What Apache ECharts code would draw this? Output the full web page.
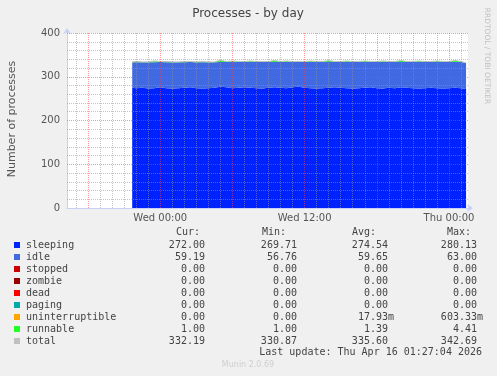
<!DOCTYPE html>
<html><head><meta charset="utf-8">
<script src="https://cdn.jsdelivr.net/npm/echarts@6/dist/echarts.min.js"></script>
<style>html,body{margin:0;padding:0;background:#f0f0f0}#c{width:497px;height:376px}</style>
</head><body><div id="c"></div><script>
// ---- data (hours relative to Wed 15 Apr 2026 00:00) ----
var startHour = -2.33, endHour = 25.42, stepHour = 0.5;
var xMin = -7.75, xMax = 25.58;
var tickHours = [0, 12, 24];
var tickLabels = ['Wed 00:00', 'Wed 12:00', 'Thu 00:00'];
var yTicks = [0, 100, 200, 300, 400];

var sleeping = [275,274,275,273,274,276,274,273,274,275,
                276,274,273,274,275,277,276,274,275,276,
                275,274,273,275,276,275,274,276,277,275,
                274,273,274,275,276,275,274,273,274,275,
                276,274,273,275,274,276,275,274,273,274,
                275,274,273,274,275,274,272];
var idle = [58,59,58,60,59,58,59,60,59,58,
            58,59,60,59,58,57,58,60,59,58,
            59,60,61,59,58,59,60,58,57,59,
            60,61,60,59,58,59,60,61,60,59,
            58,60,61,59,60,58,59,60,61,60,
            59,60,61,60,59,60,59];
var runnable = [1,2,1,1,3,1,2,1,1,2,
                1,1,2,1,1,4,1,2,1,1,
                2,1,1,1,3,1,2,1,1,1,
                2,1,1,3,1,1,2,1,1,2,
                1,1,2,1,1,3,1,1,2,1,
                1,2,1,1,3,1,1];
var total = [334,335,334,334,336,335,335,334,334,335,
             335,334,335,334,334,338,335,336,335,335,
             336,335,335,335,337,335,336,335,335,335,
             336,335,335,337,335,335,336,335,335,336,
             335,335,336,335,335,337,335,335,336,335,
             335,336,335,335,337,335,332];
var zeros = [0,0,0,0,0,0,0,0,0,0, 0,0,0,0,0,0,0,0,0,0, 0,0,0,0,0,0,0,0,0,0,
             0,0,0,0,0,0,0,0,0,0, 0,0,0,0,0,0,0,0,0,0, 0,0,0,0,0,0,0];

var names  = ['sleeping','idle','stopped','zombie','dead','paging','uninterruptible','runnable','total'];
var colors = ['#0022ff','#4169e1','#cc0000','#990000','#ff0000','#00aaaa','#ffa500','#22ff22','#c0c0c0'];
var curVals = ['272.00','59.19','0.00','0.00','0.00','0.00','0.00','1.00','332.19'];
var minVals = ['269.71','56.76','0.00','0.00','0.00','0.00','0.00','1.00','330.87'];
var avgVals = ['274.54','59.65','0.00','0.00','0.00','0.00','17.93m','1.39','335.60'];
var maxVals = ['280.13','63.00','0.00','0.00','0.00','0.00','603.33m','4.41','342.69'];
var lastUpdate = 'Last update: Thu Apr 16 01:27:04 2026';

// ---- build ----
var T0 = Date.UTC(2026, 3, 15, 0, 0, 0);
var HOUR = 3600000;
function ms(h){ return T0 + h * HOUR; }
var times = [startHour];
for (var k = 0; k < sleeping.length - 2; k++) times.push(-2.0 + k * stepHour);
times.push(endHour);
function pts(arr){ return arr.map(function(v,i){ return [ms(times[i]), v]; }); }

var stackData = [sleeping, idle, zeros, zeros, zeros, zeros, zeros, runnable];
var series = stackData.map(function(arr, i){
  return {
    name: names[i], type: 'line', stack: 'p', symbol: 'none',
    data: pts(arr), lineStyle: {width: 0}, itemStyle: {color: colors[i]},
    areaStyle: {color: colors[i], opacity: 1}, z: 2
  };
});
series.push({name: 'total', type: 'line', symbol: 'none', data: pts(total),
  lineStyle: {width: 1, color: colors[8]}, z: 3});

var gridLines = [];
var minorStyle = {color: 'rgba(150,150,150,0.55)', width: 1, type: [1,1]};
var majorStyle = {color: 'rgba(255,60,60,0.55)', width: 1, type: [1,1]};
for (var h = Math.ceil(xMin); h <= Math.floor(xMax); h++) {
  gridLines.push({xAxis: ms(h), lineStyle: (h % 6 === 0) ? majorStyle : minorStyle});
}
for (var v = 20; v <= 400; v += 20) {
  gridLines.push({yAxis: v, lineStyle: (v % 100 === 0) ? majorStyle : minorStyle});
}
series.push({type: 'line', data: [], z: 5, markLine: {silent: true, symbol: 'none', animation: false,
  label: {show: false}, data: gridLines}});

var mono = 'DejaVu Sans Mono';
var txtCol = '#444';
var graphics = [
  {type:'text', x: 248, y: 14, style:{text:'Processes - by day', font:'12px "DejaVu Sans"', fill:'#444', align:'center', verticalAlign:'middle'}},
  {type:'text', x: 12, y: 119, rotation: Math.PI/2, style:{text:'Number of processes', font:'11px "DejaVu Sans"', fill:'#555', align:'center', verticalAlign:'middle'}},
  {type:'text', x: 487, y: 56, rotation: -Math.PI/2, style:{text:'RRDTOOL / TOBI OETIKER', font:'7.5px "DejaVu Sans"', fill:'#c0c0c0', align:'center', verticalAlign:'middle'}},
  {type:'text', x: 248, y: 365, style:{text:'Munin 2.0.69', font:'8px "DejaVu Sans"', fill:'#cfcfcf', align:'center', verticalAlign:'middle'}},
  {type:'text', x: 176, y: 232.5, style:{text:'Cur:', font:'10px "'+mono+'"', fill:txtCol, verticalAlign:'middle'}},
  {type:'text', x: 262, y: 232.5, style:{text:'Min:', font:'10px "'+mono+'"', fill:txtCol, verticalAlign:'middle'}},
  {type:'text', x: 352, y: 232.5, style:{text:'Avg:', font:'10px "'+mono+'"', fill:txtCol, verticalAlign:'middle'}},
  {type:'text', x: 447, y: 232.5, style:{text:'Max:', font:'10px "'+mono+'"', fill:txtCol, verticalAlign:'middle'}},
  {type:'text', x: 482, y: 352.5, style:{text:lastUpdate, font:'10px "'+mono+'"', fill:txtCol, align:'right', verticalAlign:'middle'}}
];
function pad(s){ return /m$/.test(s) ? s : s + ' '; }
var colsRight = [211, 303, 394, 483];
names.forEach(function(n, i){
  var y = 245 + i * 12;
  graphics.push({type:'rect', shape:{x:14, y:y-3, width:6, height:6}, style:{fill:colors[i]}});
  graphics.push({type:'text', x: 26, y: y, style:{text:n, font:'10px "'+mono+'"', fill:txtCol, verticalAlign:'middle'}});
  [curVals, minVals, avgVals, maxVals].forEach(function(arr, c){
    graphics.push({type:'text', x: colsRight[c], y: y, style:{text:pad(arr[i]), font:'10px "'+mono+'"', fill:txtCol, align:'right', verticalAlign:'middle'}});
  });
});

var axisCol = '#c8d0f8';
var chart = echarts.init(document.getElementById('c'), null, {renderer:'canvas', useUTC: true});
chart.setOption({
  animation: false,
  useUTC: true,
  backgroundColor: '#f0f0f0',
  grid: {left: 67, top: 33, width: 401, height: 175, show: true, backgroundColor: '#ffffff', borderWidth: 0},
  xAxis: [
    {type:'time', min: ms(xMin), max: ms(xMax),
      axisLine:{show:true, onZero:false, lineStyle:{color:axisCol, width:1}, symbol:['none','arrow'], symbolSize:[6,6], symbolOffset:[0,5]},
      axisTick:{show:false}, splitLine:{show:false}, axisLabel:{show:false}},
    {type:'value', position:'bottom', offset: 0, min: xMin, max: xMax,
      axisLine:{show:false}, axisTick:{show:false}, splitLine:{show:false},
      axisLabel:{customValues: tickHours, color:'#555', fontSize:10, fontFamily:'DejaVu Sans', margin:5,
        formatter:function(v){ var k = tickHours.indexOf(v); return k >= 0 ? tickLabels[k] : ''; }}}
  ],
  yAxis: {type:'value', min: 0, max: 400, interval: 100,
    axisLine:{show:true, onZero:false, lineStyle:{color:axisCol, width:1}, symbol:['none','arrow'], symbolSize:[6,6], symbolOffset:[0,5]},
    axisTick:{show:false}, splitLine:{show:false},
    axisLabel:{color:'#555', fontSize:10, fontFamily:'DejaVu Sans', margin:7}},
  series: series,
  graphic: graphics
});
</script></body></html>
